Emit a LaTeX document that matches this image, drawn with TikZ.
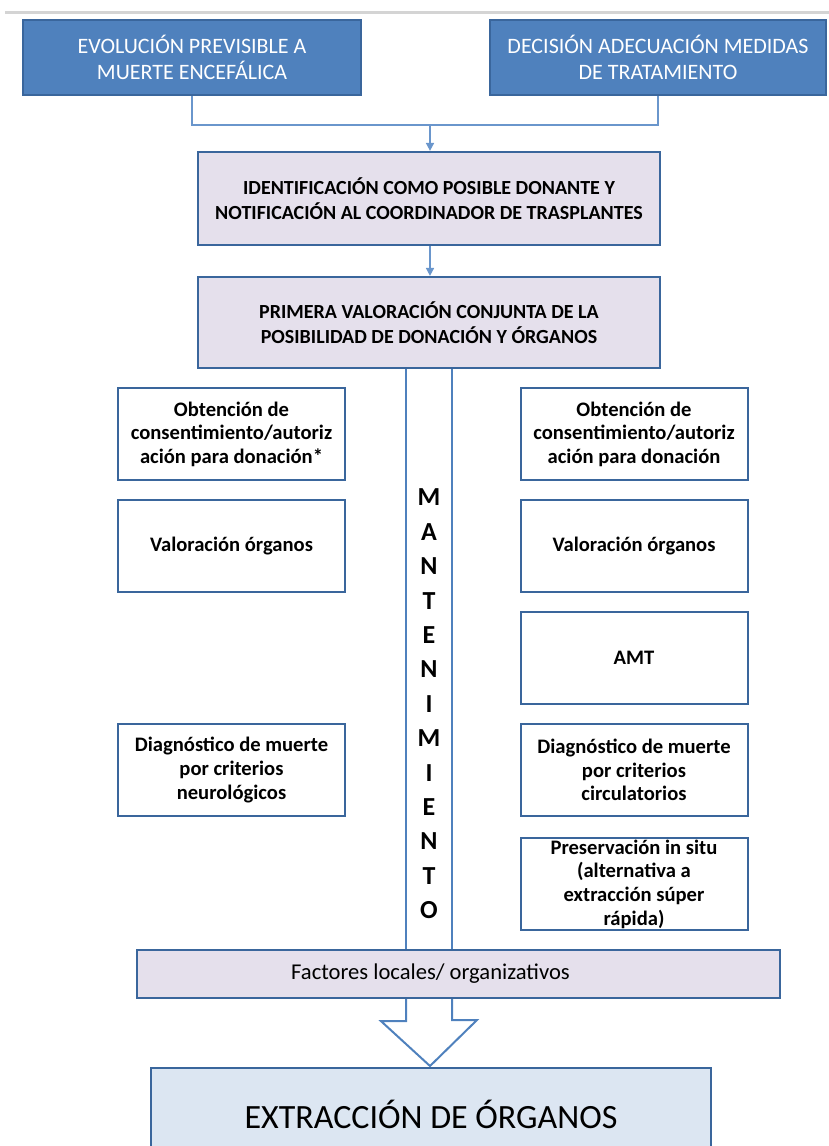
\documentclass[tikz,border=0pt]{standalone}
\usepackage{fontspec}
\setmainfont{Carlito}
\usetikzlibrary{arrows.meta}
\definecolor{midblue}{HTML}{4F81BD}
\definecolor{bordblue}{HTML}{3A669C}
\definecolor{lineblue}{HTML}{6A96CC}
\definecolor{lav}{HTML}{E5E0EC}
\definecolor{paleblue}{HTML}{DCE6F2}
\definecolor{rule}{HTML}{D4D4D4}
\tikzset{
  topbox/.style={draw=bordblue, fill=midblue, line width=1pt, text=white, align=center,
    minimum width=169pt, minimum height=37.5pt, font=\fontsize{11}{13}\selectfont},
  widebox/.style={draw=bordblue, fill=lav, line width=1.1pt, align=center,
    minimum width=231pt, minimum height=46pt, font=\bfseries\fontsize{10}{12.5}\selectfont},
  smallbox/.style={draw=bordblue, fill=white, line width=1pt, align=center, inner ysep=0pt,
    minimum width=113.5pt, minimum height=46pt, font=\bfseries\fontsize{10.3}{11.8}\selectfont},
  conn/.style={draw=lineblue, line width=0.8pt},
  mline/.style={draw=midblue, line width=1pt},
}
\begin{document}
\begin{tikzpicture}[x=0.5pt, y=-0.5pt]
        \clip (0,0) rectangle (829,1146);
        \draw[rule, line width=1.5pt] (5,12) -- (829,12);
        \node[topbox] (evo) at (192,57.5) {EVOLUCIÓN PREVISIBLE A\\MUERTE ENCEFÁLICA};
        \node[topbox, minimum width=168pt] (dec) at (658,57.5) {DECISIÓN ADECUACIÓN MEDIDAS\\DE TRATAMIENTO};
        \node[widebox, minimum height=46.5pt] (ident) at (429,198.5) {IDENTIFICACIÓN COMO POSIBLE DONANTE Y\\NOTIFICACIÓN AL COORDINADOR DE TRASPLANTES};
        \node[widebox, minimum height=45.5pt] (prim) at (429,322.5) {PRIMERA VALORACIÓN CONJUNTA DE LA\\POSIBILIDAD DE DONACIÓN Y ÓRGANOS};
        \coordinate (j) at (430,125);
        \coordinate (ml) at (406,0);
        \coordinate (mr) at (452,0);
        \node[smallbox] (l1) at (231.5,434) {Obtención de\\consentimiento/autoriz\\ación para donación*};
        \node[smallbox] (l2) at (231.5,546) {Valoración órganos};
        \node[smallbox] (l3) at (231.5,770) {Diagnóstico de muerte\\por criterios\\neurológicos};
        \node[smallbox] (r1) at (634,434) {Obtención de\\consentimiento/autoriz\\ación para donación};
        \node[smallbox] (r2) at (634,546) {Valoración órganos};
        \node[smallbox] (r3) at (634,658) {AMT};
        \node[smallbox] (r4) at (634,770) {Diagnóstico de muerte\\por criterios\\circulatorios};
        \node[smallbox] (r5) at (634,884) {Preservación in situ\\(alternativa a\\extracción súper\\rápida)};
        \node[align=center, font=\bfseries\fontsize{13}{17.2}\selectfont] (mant) at (429,704) {M\\A\\N\\T\\E\\N\\I\\M\\I\\E\\N\\T\\O};
        \node[widebox, font=\fontsize{11.3}{13}\selectfont, minimum width=321.5pt, minimum height=24pt] (fact) at (458.5,974) {\hspace*{-28pt}Factores locales/ organizativos};
        \node[draw=bordblue, fill=paleblue, line width=1pt, minimum width=280pt, minimum height=46pt, font=\fontsize{17}{20}\selectfont] (ext) at (431,1114) {EXTRACCIÓN DE ÓRGANOS};
        \coordinate (tip) at (430,1066);
        \draw[conn] (evo.south) |- (j) -| (dec.south);
        \draw[conn, -{Triangle[length=4pt, width=4pt]}] (j) -- (ident.north -| j);
        \draw[conn, -{Triangle[length=4pt, width=4pt]}] (ident.south -| j) -- (prim.north -| j);
        \draw[mline] (ml |- prim.south) -- (ml |- fact.north);
        \draw[mline] (mr |- prim.south) -- (mr |- fact.north);
        \draw[mline, line join=miter] (ml |- fact.south) -- ++(0,22) -- ++(-25,0) -- (tip) -- (477,1020) -- ++(-25,0) -- (mr |- fact.south);
        \end{tikzpicture}
\end{document}
